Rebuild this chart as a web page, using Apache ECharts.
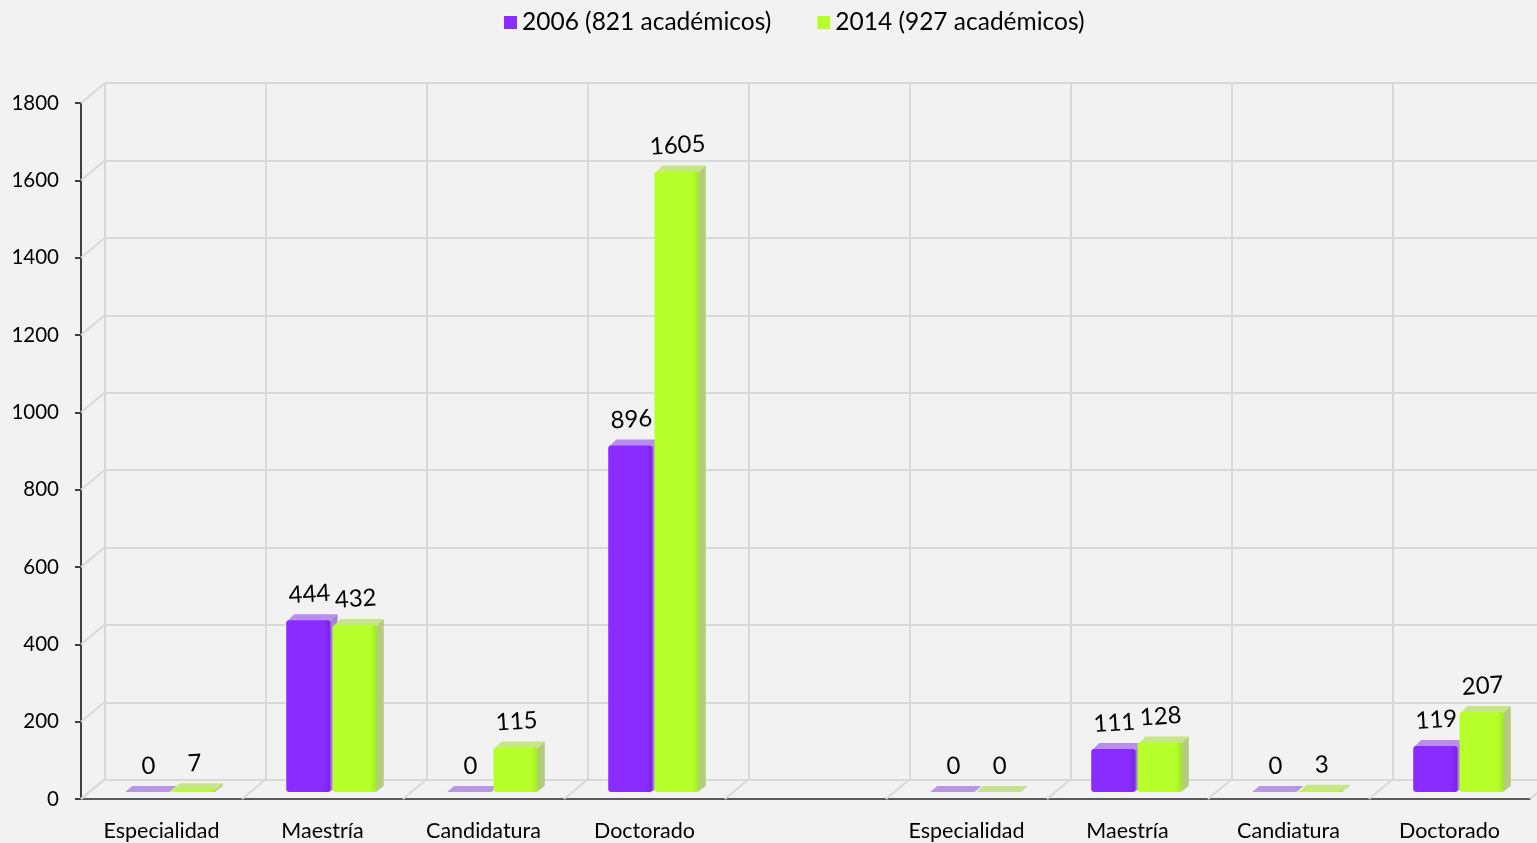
<!DOCTYPE html>
<html>
<head>
<meta charset="utf-8">
<script src="https://cdn.jsdelivr.net/npm/echarts@6/dist/echarts.min.js"></script>
<style>
  html, body { margin: 0; padding: 0; background: #f2f2f2; }
  #chart { width: 1537px; height: 843px; }
</style>
</head>
<body>
<div id="chart"></div>
<script>
const categories = ['Especialidad', 'Maestría', 'Candidatura', 'Doctorado', '', 'Especialidad', 'Maestría', 'Candiatura', 'Doctorado'];
const values2006 = [0, 444, 0, 896, null, 0, 111, 0, 119];
const values2014 = [7, 432, 115, 1605, null, 0, 128, 3, 207];
const yTicks = [0, 200, 400, 600, 800, 1000, 1200, 1400, 1600, 1800];
const seriesNames = ['2006 (821 académicos)', '2014 (927 académicos)'];

const FONT = 'Lato, "Open Sans", sans-serif';
const colors = [
  { front: '#8a2bff', top: '#b690e6', side: '#a67fd9', flat: '#b996e2' },
  { front: '#b6ff2b', top: '#c8e48c', side: '#b3cd7d', flat: '#c6e094' }
];

const toPairs = arr => arr.map((v, i) => v == null ? null : [i, v]).filter(d => d);

// bars drawn as faux-3D blocks (front, top, side)
function barItem(params, api) {
  const s = params.seriesIndex - 1;
  const c = colors[s];
  const ci = api.value(0), v = api.value(1);
  const base = api.coord([ci, 0]);
  const top = api.coord([ci, v]);
  const band = api.size([1, 0])[0];
  const w = band * 0.275;
  const shiftX = 9, shiftY = -7, dx = 7, dy = -6;
  const x0 = base[0] + shiftX + (s === 0 ? -w - 1 : 1);
  const x1 = x0 + w;
  const yb = base[1] + shiftY;
  const yt = top[1] + shiftY;
  const children = [];
  if (v > 0) {
    children.push({
      type: 'polygon',
      shape: { points: [[x1 - 1, yt], [x1 + dx, yt + dy], [x1 + dx, yb + dy], [x1 - 1, yb]] },
      style: { fill: c.side }
    });
    children.push({
      type: 'polygon',
      shape: { points: [[x0 + 1, yt + 1], [x1, yt + 1], [x1 + dx, yt + dy], [x0 + dx + 1, yt + dy]] },
      style: { fill: c.top }
    });
    children.push({
      type: 'rect',
      shape: { x: x0, y: yt, width: w, height: Math.max(yb - yt, 1), r: 3 },
      style: {
        fill: new echarts.graphic.LinearGradient(0, 0, 1, 0, [
          { offset: 0, color: c.front },
          { offset: 0.85, color: c.front },
          { offset: 1, color: s === 0 ? '#7a22e6' : '#a3e824' }
        ])
      }
    });
  } else {
    children.push({
      type: 'polygon',
      shape: { points: [[x0, yb], [x1, yb], [x1 + dx, yb + dy], [x0 + dx, yb + dy]] },
      style: { fill: c.flat }
    });
  }
  children.push({
    type: 'text',
    x: (x0 + x1) / 2 + 1,
    y: yt + dy - 20,
    rotation: 0.06,
    style: {
      text: String(v), fill: '#000', font: '24px ' + FONT,
      align: 'center', verticalAlign: 'middle'
    }
  });
  return { type: 'group', children: children };
}

// slanted frame lines of the left wall and the floor
function frameItem(params, api) {
  const cs = params.coordSys;
  const kind = api.value(0), v = api.value(1);
  const st = { stroke: '#d9d9d9', lineWidth: 2 };
  if (kind === 0) {
    const p = api.coord([0, v]);
    return { type: 'line', shape: { x1: cs.x, y1: p[1], x2: cs.x + 24, y2: p[1] - 20 }, style: st };
  }
  const band = api.size([1, 0])[0];
  const p = api.coord([Math.min(v, categories.length - 1), 0]);
  const x = v < categories.length ? p[0] - band / 2 : p[0] + band / 2;
  return { type: 'line', shape: { x1: x, y1: p[1], x2: x + 24, y2: p[1] - 20 }, style: st };
}

const frameData = yTicks.map(t => [0, t]).concat(categories.map((c, i) => [1, i]), [[1, categories.length]]);

const chart = echarts.init(document.getElementById('chart'));
chart.setOption({
  backgroundColor: '#f2f2f2',
  animation: false,
  textStyle: { fontFamily: FONT },
  legend: {
    data: seriesNames,
    top: 5,
    left: 499,
    icon: 'rect',
    itemWidth: 13,
    itemHeight: 13,
    itemGap: 46,
    textStyle: { fontSize: 24.5, color: '#000', fontFamily: FONT }
  },
  grid: [
    { left: 81, top: 103, width: 1449, height: 696, outerBoundsMode: 'none' },
    { left: 105, top: 83, width: 1449, height: 697, outerBoundsMode: 'none' }
  ],
  xAxis: [
    {
      gridIndex: 0, type: 'category', data: categories,
      axisLine: { lineStyle: { color: '#595959', width: 2 } },
      axisTick: { show: false },
      axisLabel: { color: '#000', fontSize: 21.5, margin: 21, interval: 0, fontFamily: FONT },
      splitLine: { show: false }
    },
    {
      gridIndex: 1, type: 'category', data: categories,
      axisLine: { show: false }, axisTick: { show: false }, axisLabel: { show: false },
      splitLine: { show: true, interval: 0, lineStyle: { color: '#d9d9d9', width: 2 } }
    }
  ],
  yAxis: [
    {
      gridIndex: 0, type: 'value', min: 0, max: 1800, interval: 200,
      axisLine: { show: true, lineStyle: { color: '#404040', width: 2 } },
      axisTick: { show: true, length: 6, lineStyle: { color: '#404040', width: 2 } },
      axisLabel: { color: '#000', fontSize: 20.5, margin: 22, fontFamily: FONT, formatter: v => String(v) },
      splitLine: { show: false }
    },
    {
      gridIndex: 1, type: 'value', min: 0, max: 1800, interval: 200,
      axisLine: { show: false }, axisTick: { show: false }, axisLabel: { show: false },
      splitLine: { show: true, lineStyle: { color: '#d9d9d9', width: 2 } }
    }
  ],
  series: [
    {
      name: 'frame', type: 'custom', xAxisIndex: 0, yAxisIndex: 0,
      renderItem: frameItem, data: frameData, z: 1, silent: true,
      encode: { x: -1, y: -1 }
    },
    {
      name: seriesNames[0], type: 'custom', xAxisIndex: 0, yAxisIndex: 0,
      itemStyle: { color: colors[0].front },
      renderItem: barItem, data: toPairs(values2006), z: 5
    },
    {
      name: seriesNames[1], type: 'custom', xAxisIndex: 0, yAxisIndex: 0,
      itemStyle: { color: colors[1].front },
      renderItem: barItem, data: toPairs(values2014), z: 5
    }
  ]
});
</script>
</body>
</html>
